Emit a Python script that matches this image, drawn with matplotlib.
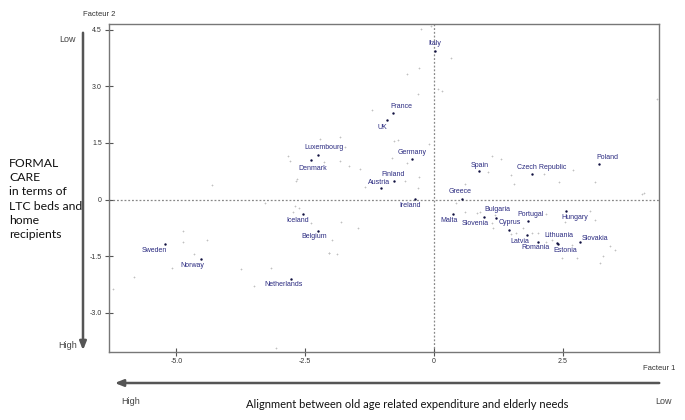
import numpy as np
import matplotlib
matplotlib.use("Agg")
import matplotlib.pyplot as plt

# countries (active points), factor 1 / factor 2 coordinates
countries = ["Italy", "France", "UK", "Luxembourg", "Denmark", "Germany", "Finland",
             "Austria", "Ireland", "Greece", "Spain", "Czech Republic", "Poland",
             "Iceland", "Belgium", "Sweden", "Norway", "Netherlands", "Malta",
             "Slovenia", "Bulgaria", "Cyprus", "Portugal", "Hungary", "Latvia",
             "Romania", "Lithuania", "Estonia", "Slovakia"]
f1 = [0.02, -0.80, -0.91, -2.26, -2.38, -0.43, -0.77,
      -1.03, -0.36, 0.54, 0.87, 1.90, 3.21,
      -2.55, -2.25, -5.23, -4.52, -2.77, 0.38,
      0.97, 1.20, 1.45, 1.83, 2.57, 1.81,
      2.03, 2.39, 2.41, 2.84]
f2 = [3.93, 2.29, 2.11, 1.18, 1.04, 1.07, 0.50,
      0.30, 0.02, 0.02, 0.75, 0.68, 0.94,
      -0.38, -0.82, -1.18, -1.58, -2.09, -0.38,
      -0.47, -0.49, -0.80, -0.56, -0.31, -0.93,
      -1.11, -1.14, -1.18, -1.13]

# faint supplementary points
sup_f1 = [-4.31, -4.87, -4.88, -4.41, -4.66, -5.08, -5.83, -6.24, -3.74, -3.16,
          -3.49, -3.06, -3.27, -2.69, -2.61, -2.73, -2.38, -1.98, -2.03, -2.68,
          -1.80, -1.48, -2.04, -1.88, -0.25, -0.05, 0.33, -0.29, -0.52, 0.08,
          0.16, -0.31, -1.21, -0.78, -0.70, -0.09, -1.83, -2.22, -1.73, -2.83,
          -2.80, -2.13, -1.83, -1.64, -1.43, -2.66, -0.81, -0.52, -0.29, -0.57,
          -0.31, -1.33, 0.61, 4.33, 4.07, 1.13, 1.31, 1.06, 1.50, 1.55,
          2.13, 2.42, 2.70, 3.12, 0.42, 0.60, 0.84, 0.90, 1.19, 1.13,
          1.15, 1.49, 1.60, 1.73, 1.91, 2.02, 2.17, 2.17, 2.30, 2.55,
          2.68, 2.77, 2.48, 3.04, 3.12, 3.28, 3.23, 3.41, 3.51, 4.04]
sup_f2 = [0.40, -0.82, -1.12, -1.08, -1.45, -1.82, -2.05, -2.37, -1.84, -1.81,
          -2.28, -3.93, -0.08, -0.17, -0.23, -0.32, -0.63, -1.08, -1.40, 0.50,
          -0.60, -0.74, -1.40, -1.44, 4.52, 4.60, 3.74, 3.48, 3.32, 2.93,
          2.88, 2.80, 2.37, 1.56, 1.58, 1.46, 1.66, 1.60, 1.39, 1.16,
          1.02, 0.99, 1.02, 0.89, 0.82, 0.55, 1.10, 0.98, 0.61, 0.49,
          0.30, 0.34, 0.42, 2.66, 0.17, 1.16, 1.08, 0.72, 0.64, 0.42,
          0.69, 0.48, 0.79, 0.46, -0.10, -0.34, -0.36, -0.32, -0.40, -0.62,
          -0.76, -0.91, -0.89, -0.76, -0.89, -0.89, -0.38, -1.11, -1.07, -0.58,
          -1.20, -1.55, -1.55, -0.29, -0.54, -1.49, -1.67, -1.24, -1.33, 0.15]

xticks = [-5.0, -2.5, 0.0, 2.5]
xtick_labels = ["-5.0", "-2.5", "0", "2.5"]
yticks = [-3.0, -1.5, 0.0, 1.5, 3.0, 4.5]
ytick_labels = ["-3.0", "-1.5", "0", "1.5", "3.0", "4.5"]

# label placement: (dx, dy in points, ha, va)
label_pos = {
    "Italy": (0, 3, "center", "bottom"),
    "France": (-1.5, 2, "left", "bottom"),
    "UK": (0, -3, "right", "top"),
    "Luxembourg": (5, 3, "center", "bottom"),
    "Denmark": (1, -3, "center", "top"),
    "Germany": (0, 2, "center", "bottom"),
    "Finland": (-1, 2, "center", "bottom"),
    "Austria": (-1, 2, "center", "bottom"),
    "Ireland": (-4, -2, "center", "top"),
    "Greece": (-1, 3, "center", "bottom"),
    "Spain": (1, 2, "center", "bottom"),
    "Czech Republic": (7, 2, "center", "bottom"),
    "Poland": (-2, 2, "left", "bottom"),
    "Iceland": (-3.5, -2, "center", "top"),
    "Belgium": (-3, -2, "center", "top"),
    "Sweden": (-7.7, -2, "center", "top"),
    "Norway": (-6.5, -2, "center", "top"),
    "Netherlands": (-5.8, -2, "center", "top"),
    "Malta": (-3.2, -2, "center", "top"),
    "Slovenia": (-6.3, -2, "center", "top"),
    "Bulgaria": (1, 3.5, "center", "bottom"),
    "Cyprus": (1, 2.5, "center", "bottom"),
    "Portugal": (2, 2, "center", "bottom"),
    "Hungary": (5.8, -2, "center", "top"),
    "Latvia": (-5, -2, "center", "top"),
    "Romania": (-2, -2, "center", "top"),
    "Lithuania": (1.7, 2.5, "center", "bottom"),
    "Estonia": (5, -2, "center", "top"),
    "Slovakia": (1, 0.5, "left", "bottom"),
}

navy = "#2a2a80"
side_font = ["Lato", "DejaVu Sans"]
plt.rcParams["font.family"] = ["Liberation Sans", "DejaVu Sans"]

fig = plt.figure(figsize=(6.85, 4.2), dpi=100)
ax = fig.add_axes([0.159, 0.163, 0.803, 0.780])

ax.scatter(sup_f1, sup_f2, s=1.2, color="#c0c0c0", marker="+", linewidths=0.5, zorder=2)
ax.scatter(f1, f2, s=3, color="#101040", linewidths=0, zorder=3)
for name, x, y in zip(countries, f1, f2):
    dx, dy, ha, va = label_pos[name]
    ax.annotate(name, (x, y), xytext=(dx, dy), textcoords="offset points",
                ha=ha, va=va, fontsize=5, color=navy)

ax.axhline(0, color="#888888", lw=0.9, ls=(0, (1.5, 1.5)), zorder=1)
ax.axvline(0, color="#888888", lw=0.9, ls=(0, (1.5, 1.5)), zorder=1)

ax.set_xlim(-6.31, 4.37)
ax.set_ylim(-4.02, 4.65)
ax.set_xticks(xticks, xtick_labels)
ax.set_yticks(yticks, ytick_labels)
ax.tick_params(direction="inout", length=6, width=0.8, color="#555555",
               labelsize=5, labelcolor="#333333", pad=2)
for sp in ax.spines.values():
    sp.set_color("#777777")
    sp.set_linewidth(1.0)

# side annotations (figure coordinates)
fig.text(83 / 685, 1 - 15 / 420, "Facteur 2", fontsize=5.5, color="#333333",
         ha="left", va="center")
fig.text(1 - 10 / 685, 1 - 369 / 420, "Facteur 1", fontsize=5.5, color="#333333",
         ha="right", va="center")

ax.annotate("", xy=(83 / 685, 1 - 353 / 420), xytext=(83 / 685, 1 - 30 / 420),
            xycoords="figure fraction",
            arrowprops=dict(arrowstyle="-|>,head_length=0.5,head_width=0.2",
                            color="#555555", lw=1.8))
ax.annotate("", xy=(112 / 685, 1 - 383 / 420), xytext=(662 / 685, 1 - 383 / 420),
            xycoords="figure fraction",
            arrowprops=dict(arrowstyle="-|>,head_length=0.5,head_width=0.2",
                            color="#555555", lw=1.8))

fig.text(68 / 685, 1 - 40 / 420, "Low", fontsize=6.5, color="#444444",
         ha="center", va="center")
fig.text(68 / 685, 1 - 346 / 420, "High", fontsize=6.5, color="#444444",
         ha="center", va="center")
fig.text(131 / 685, 1 - 401 / 420, "High", fontsize=6.5, color="#444444",
         ha="center", va="center")
fig.text(663 / 685, 1 - 401 / 420, "Low", fontsize=6.5, color="#444444",
         ha="center", va="center")

fig.text(407 / 685, 1 - 405 / 420,
         "Alignment between old age related expenditure and elderly needs",
         fontsize=8, family=side_font, color="#111111", ha="center", va="center")
fig.text(9 / 685, 1 - 199 / 420,
         "FORMAL\nCARE\nin terms of\nLTC beds and\nhome\nrecipients",
         fontsize=8.8, family=side_font, color="#111111", ha="left", va="center",
         linespacing=1.35)

fig.savefig("out.png", dpi=100)
